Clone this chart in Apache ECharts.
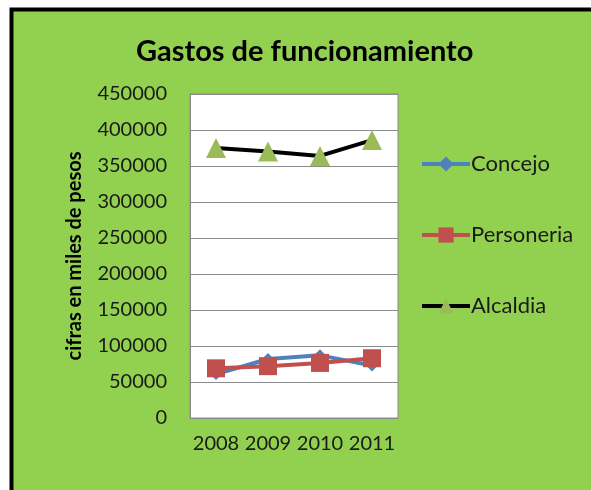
<!DOCTYPE html>
<html>
<head>
<meta charset="utf-8">
<script src="https://cdn.jsdelivr.net/npm/echarts@6/dist/echarts.min.js"></script>
<style>
  html, body { margin: 0; padding: 0; background: #ffffff; }
  #chart { width: 591px; height: 490px; }
</style>
</head>
<body>
<div id="chart"></div>
<script>
// Years on the category axis
const years = ['2008', '2009', '2010', '2011'];

// Operating expenses, in thousands of pesos
const concejo = [61000, 82000, 87000, 73000];
const personeria = [69000, 72000, 76500, 83000];
const alcaldia = [375000, 370000, 364000, 386000];

const textColor = '#1a1a1a';
const fontFamily = 'Lato, "Open Sans", sans-serif';

const chart = echarts.init(document.getElementById('chart'), null, { renderer: 'canvas' });

chart.setOption({
  backgroundColor: '#ffffff',
  animation: false,
  graphic: [{
    type: 'rect',
    z: -10,
    shape: { x: 11.5, y: 9.5, width: 620, height: 520 },
    style: { fill: '#92D050', stroke: '#000000', lineWidth: 4 }
  }],
  title: {
    text: 'Gastos de funcionamiento',
    left: 131,
    top: 32,
    textStyle: { fontFamily: fontFamily, fontSize: 29, fontWeight: 'bold', color: '#000000' }
  },
  legend: {
    orient: 'vertical',
    left: 420,
    top: 153,
    padding: 0,
    itemWidth: 48,
    itemHeight: 19,
    itemGap: 49,
    lineStyle: { width: 4 },
    textStyle: { fontFamily: fontFamily, fontSize: 22, color: textColor, padding: [0, 0, 0, -4] },
    data: ['Concejo', 'Personeria', 'Alcaldia']
  },
  grid: {
    left: 190,
    top: 94,
    width: 208,
    height: 324,
    show: true,
    backgroundColor: '#ffffff',
    borderColor: '#8c8c8c',
    borderWidth: 1
  },
  xAxis: {
    type: 'category',
    data: years,
    boundaryGap: true,
    axisLine: { lineStyle: { color: '#8c8c8c' } },
    axisTick: { show: false },
    axisLabel: { interval: 0, margin: 16, fontFamily: fontFamily, fontSize: 20, color: textColor }
  },
  yAxis: {
    type: 'value',
    min: 0,
    max: 450000,
    interval: 50000,
    name: 'cifras en miles de pesos',
    nameLocation: 'middle',
    nameRotate: 90,
    nameGap: 105,
    nameTextStyle: { fontFamily: fontFamily, fontSize: 20, fontWeight: 'bold', color: '#000000' },
    axisLine: { show: true, lineStyle: { color: '#8c8c8c' } },
    axisTick: { show: false },
    splitLine: { lineStyle: { color: '#8c8c8c', width: 1 } },
    axisLabel: {
      margin: 23,
      fontFamily: fontFamily,
      fontSize: 20,
      color: textColor,
      formatter: function (v) { return String(v); }
    }
  },
  series: [
    {
      name: 'Concejo',
      type: 'line',
      data: concejo,
      symbol: 'diamond',
      symbolSize: 12,
      lineStyle: { color: '#4F81BD', width: 4 },
      itemStyle: { color: '#4F81BD' }
    },
    {
      name: 'Personeria',
      type: 'line',
      data: personeria,
      symbol: 'rect',
      symbolSize: 18,
      lineStyle: { color: '#C0504D', width: 4 },
      itemStyle: { color: '#C0504D' }
    },
    {
      name: 'Alcaldia',
      type: 'line',
      data: alcaldia,
      symbol: 'triangle',
      symbolSize: 20,
      lineStyle: { color: '#000000', width: 4 },
      itemStyle: { color: '#9BBB59' }
    }
  ]
});
</script>
</body>
</html>
